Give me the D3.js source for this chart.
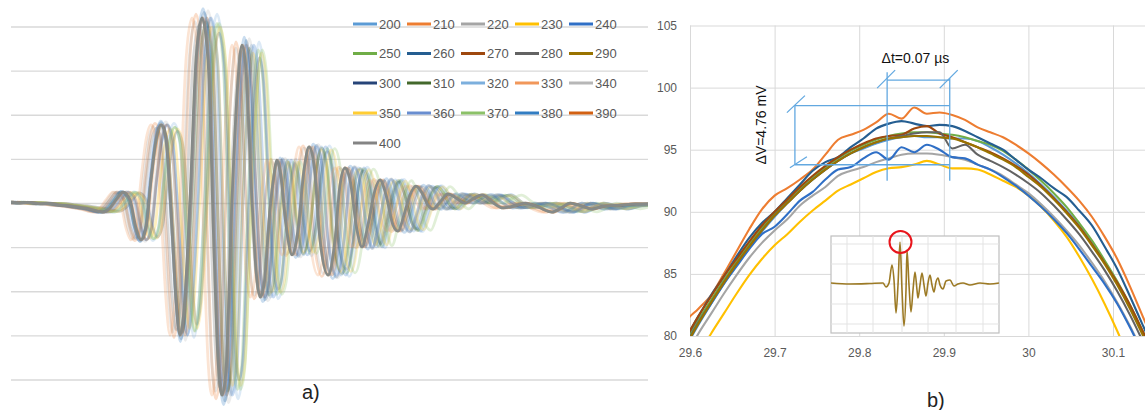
<!DOCTYPE html>
<html><head><meta charset="utf-8">
<script src="https://cdn.jsdelivr.net/npm/d3@7"></script>
<style>body{margin:0;background:#fff}svg{display:block;font-family:"Liberation Sans",Arial,sans-serif}</style>
</head><body>
<svg id="c" width="1145" height="410"></svg>
<script>
// ---------- shared legend ----------
const seriesNames = ["200","210","220","230","240","250","260","270","280","290","300","310","320","330","340","350","360","370","380","390","400"];
const seriesColors = ["#5B9BD5","#ED7D31","#A5A5A5","#FFC000","#2F6FC6","#70AD47","#255E91","#9E480E","#636363","#997300","#264478","#43682B","#7CAFDD","#F1975A","#B7B7B7","#FFCD33","#698ED0","#8CC168","#327DC2","#D26012","#848484"];

// ---------- panel a): waveform of series 400 (time µs, amplitude mV) ----------
const leftTime = [0,0.9,1.9,2.9,3.9,4.9,5.9,6.9,7.9,8.6,9.2,9.9,10.5,11.2,11.9,12.5,13.0,13.5,14.0,14.5,15.0,15.5,16.1,16.5,16.9,17.3,17.9,18.5,19.1,19.7,20.3,20.7,21.1,21.5,22.1,22.7,23.1,23.5,24.1,24.5,24.9,25.3,25.9,26.3,26.6,26.9,27.5,28.1,28.7,29.3,29.8,30.3,30.9,31.7,32.4,32.9,33.4,33.9,34.6,35.1,35.7,36.4,36.9,37.5,38.2,38.7,39.3,39.9,40.5,41.1,41.7,42.2,42.9,43.7,44.5,45.4,46.3,47.1,48.1,49.2,50.3,51.4,52.7,54.1,55.0,55.9,57.0,58.1,59.4,60.9,62.4,63.7];
const leftValue = [0.7,0.2,0.5,-0.2,0,-0.7,-1.1,-1.8,-2.5,-3.4,-3.9,-2.0,1.6,5.2,1.6,-11.1,-16.5,-11.1,10.7,28.8,35.6,28.8,-12.0,-43.7,-59.6,-48.3,1.6,65.0,84.1,65.0,-21.1,-70.9,-86.8,-75.5,1.6,56.0,71.8,60.5,1.6,-30.1,-42.4,-36.9,-2.9,12.9,19.7,15.2,-9.7,-23.3,-12.0,15.2,25.6,17.5,-16.5,-32.4,-16.5,8.4,16.1,10.7,-12.0,-19.7,-9.7,6.1,10.7,3.9,-9.7,-12.5,-5.2,3.9,7.9,4.8,-0.7,-2.5,0.7,4.3,2.5,0.2,2.5,3.9,0.7,-2.0,-1.1,0.2,-1.6,-3.9,-2.0,0.2,-1.1,-2.5,-1.1,-0.7,-0.2,-0.2];
// other series (200..390) read as time offset, time stretch after onset and amplitude ratio vs. series 400
const faintShift   = [0.4,-0.6,-0.9,0.8,0.2,1.2,-0.3,0.6,-0.7,0.0,1.6,-0.4,1.0,-1.0,0.3,1.4,-0.5,0.9,-0.2,0.1];
const faintStretch = [1.04,1.00,1.02,1.02,1.07,1.03,1.05,0.99,1.04,1.00,1.01,1.08,1.05,1.00,1.03,1.04,1.06,1.08,1.03,1.00];
const faintAmp     = [1.00,1.02,0.98,0.95,1.00,0.97,1.03,1.00,0.96,1.00,0.92,0.98,1.02,1.00,1.04,0.95,1.00,0.97,1.05,1.00];
const leftGridValues = [-80,-60,-40,-20,0,20,40,60,80];

// ---------- panel b): zoom on the peak, series 200..290 ----------
const rightTime = [29.580,29.595,29.610,29.625,29.640,29.655,29.670,29.685,29.700,29.715,29.730,29.745,29.760,29.775,29.790,29.805,29.820,29.835,29.850,29.865,29.880,29.895,29.910,29.925,29.940,29.955,29.970,29.985,30.000,30.015,30.030,30.045,30.060,30.075,30.090,30.105,30.120,30.135,30.150,30.165];
const right200 = [77.2,79.1,80.9,82.6,84.2,85.7,87.1,88.4,89.6,90.7,91.7,92.6,93.4,94.1,94.7,95.1,95.5,95.8,96.0,96.1,96.0,96.0,95.9,95.9,95.7,95.2,94.6,93.9,93.1,92.2,91.2,90.1,88.9,87.5,86.0,84.3,82.4,80.3,78.1,75.9];
const right210 = [79.5,81.2,82.2,83.3,85.0,86.8,88.6,90.2,91.3,91.9,92.6,93.4,94.6,95.8,96.2,96.6,97.2,97.9,97.5,98.4,97.9,98.0,97.8,97.4,96.8,96.4,96.0,95.4,94.7,93.9,93.0,92.0,90.9,89.6,88.0,86.2,84.0,81.6,79.2,76.8];
const right220 = [76.5,78.4,80.2,81.8,83.4,84.9,86.3,87.5,88.5,89.4,90.5,91.3,92.0,92.9,93.3,93.6,94.0,94.3,94.6,94.7,94.7,94.6,94.4,94.2,93.8,93.4,92.9,92.2,91.5,90.6,89.6,88.5,87.3,85.9,84.4,82.7,80.8,78.7,76.5,74.3];
const right230 = [75.0,76.8,78.5,80.2,81.8,83.4,84.9,86.2,87.3,88.2,89.2,90.1,90.9,91.7,92.2,92.7,93.2,93.5,93.6,93.8,94.1,93.8,93.5,93.5,93.4,93.0,92.5,92.0,91.3,90.4,89.3,88.0,86.4,84.6,82.6,80.4,78.0,75.5,73.0,70.5];
const right240 = [77.3,79.2,81.0,82.6,84.2,85.6,87.0,88.2,88.8,89.8,90.9,91.6,92.6,93.4,93.6,94.3,94.8,94.2,95.2,94.8,95.4,95.0,94.4,94.3,93.8,93.4,92.8,92.1,91.3,90.4,89.4,88.3,87.0,85.6,84.2,82.6,80.7,78.6,76.4,74.2];
const right250 = [77.6,79.5,81.3,82.9,84.5,86.0,87.4,88.7,89.9,90.9,91.9,92.8,93.6,94.3,94.9,95.4,95.8,96.1,96.3,96.4,96.4,96.3,96.2,96.0,95.7,95.4,94.9,94.2,93.4,92.5,91.5,90.4,89.1,87.7,86.1,84.4,82.5,80.4,78.2,76.0];
const right260 = [78.0,79.8,81.6,83.3,84.8,86.4,87.9,89.1,90.0,91.1,92.2,93.3,94.0,94.4,95.2,95.9,96.7,97.1,97.3,97.1,96.9,97.0,96.9,96.5,96.0,95.5,95.0,94.2,93.4,92.7,91.9,91.2,90.1,88.9,87.2,85.4,83.2,80.9,78.6,76.3];
const right270 = [77.8,79.8,81.6,83.2,84.8,86.2,87.6,88.9,90.0,91.0,92.0,92.9,93.7,94.4,95.0,95.5,95.9,96.1,96.2,96.7,96.9,96.3,96.0,95.6,95.2,94.8,94.3,93.7,93.0,92.1,91.1,90.0,88.8,87.4,85.9,84.3,82.5,80.4,78.2,76.0];
const right280 = [77.4,79.3,81.1,82.7,84.3,85.8,87.2,88.5,89.7,90.7,91.7,92.6,93.4,94.1,94.7,95.2,95.6,95.9,96.1,96.3,96.4,96.4,95.1,95.4,94.6,94.1,93.6,93.0,92.3,91.5,90.5,89.4,88.2,86.8,85.3,83.6,81.7,79.6,77.4,75.2];
const right290 = [77.3,79.2,81.0,82.7,84.3,85.8,87.2,88.5,89.7,90.7,91.7,92.6,93.4,94.1,94.7,95.2,95.6,95.9,96.0,96.1,96.1,96.0,95.9,95.6,95.2,94.7,94.2,93.6,92.8,92.0,91.0,89.9,88.7,87.3,85.8,84.1,82.2,80.1,77.9,75.7];
const rightSeries = [right200,right210,right220,right230,right240,right250,right260,right270,right280,right290];
const rightYTicks = [80,85,90,95,100,105];
const rightXTicks = [29.6,29.7,29.8,29.9,30,30.1];
// annotation values
const dtStart = 29.833, dtEnd = 29.907, dtLevel = 100.6;
const dvLeft = 29.724, dvTop = 98.55, dvBottom = 93.79;
// inset (whole waveform, arbitrary units)
const insetTime  = [1,20,40,53,56,59,62,64,66,68,70,72,74,76,77,79,81,83,85,87,88,90,92,94,96,98,100,102,104,106,108,110,113,116,120,124,128,133,140,150,160,169];
const insetValue = [1,0,0.5,1,-3,1,19,4,-29,-1,42,-6,-42,-6,34,-1,-28,-6,12,-6,-14,-1,11,-1,-12,1,9,-1,-8,2,6,-1,-5,3,4,-2,0,1,-1,1,0,1];
const insetGridX = [17,43,72,98,126,153];
const insetGridY = [-40,-20,0,20,40];

const svg = d3.select("#c");
const defs = svg.append("defs");
defs.append("clipPath").attr("id","clipL").append("rect").attr("x",11).attr("y",0).attr("width",637).attr("height",410);

// ===== panel a =====
const xL = d3.scaleLinear().domain([0,63.7]).range([11,648]);
const yL = d3.scaleLinear().domain([-80,80]).range([380,27]);
const gA = svg.append("g");
gA.selectAll("line.grid").data(leftGridValues).join("line")
  .attr("x1",xL(0)).attr("x2",xL(63.7)).attr("y1",d=>yL(d)).attr("y2",d=>yL(d))
  .attr("stroke","#d9d9d9").attr("stroke-width",1.3);
const lineL = d3.line().x(d=>xL(d[0])).y(d=>yL(d[1])).curve(d3.curveMonotoneX);
const plotA = gA.append("g").attr("clip-path","url(#clipL)");
faintShift.forEach((s,i)=>{
  const pts = leftTime.map((t,j)=>[t + s + Math.max(0,t-9)*(faintStretch[i]-1), leftValue[j]*faintAmp[i]]);
  plotA.append("path").attr("d",lineL(pts)).attr("fill","none")
    .attr("stroke",seriesColors[i]).attr("stroke-opacity",0.26).attr("stroke-width",2.8);
});
plotA.append("path").attr("d",lineL(leftTime.map((t,j)=>[t,leftValue[j]]))).attr("fill","none")
  .attr("stroke","#868a88").attr("stroke-width",2.8);

// legend
const legCols = [353,407,461,515,569], legRows = [24,53.5,83,113,143];
const leg = svg.append("g");
seriesNames.forEach((n,i)=>{
  const x = legCols[i%5], y = legRows[Math.floor(i/5)];
  leg.append("line").attr("x1",x).attr("x2",x+24).attr("y1",y).attr("y2",y)
    .attr("stroke",seriesColors[i]).attr("stroke-width",3);
  leg.append("text").attr("x",x+26).attr("y",y).attr("dy","0.35em")
    .attr("font-size",13).attr("fill","#595959").text(n);
});
svg.append("text").attr("x",302).attr("y",399).attr("font-size",20).attr("fill","#222").text("a)");

// ===== panel b =====
const xR = d3.scaleLinear().domain([29.6,30.1378]).range([690,1145]);
const yR = d3.scaleLinear().domain([80,105]).range([336,25.5]);
defs.append("clipPath").attr("id","clipR").append("rect").attr("x",690).attr("y",25.5).attr("width",455).attr("height",310.5);
const gB = svg.append("g");
gB.append("g").attr("transform","translate(690,0)")
  .call(d3.axisLeft(yR).tickValues(rightYTicks).tickSize(-455).tickPadding(13))
  .call(g=>{g.select(".domain").remove();
    g.selectAll(".tick line").attr("stroke","#d9d9d9");
    g.selectAll(".tick text").attr("fill","#595959").attr("font-size",12).attr("font-family","Liberation Sans, Arial, sans-serif");});
gB.append("g").attr("transform","translate(0,336)")
  .call(d3.axisBottom(xR).tickValues(rightXTicks).tickFormat(d3.format("")).tickSize(-310.5).tickPadding(12))
  .call(g=>{g.select(".domain").remove();
    g.selectAll(".tick line").attr("stroke","#d9d9d9");
    g.selectAll(".tick text").attr("fill","#595959").attr("font-size",12).attr("font-family","Liberation Sans, Arial, sans-serif");});

const lineR = d3.line().x(d=>xR(d[0])).y(d=>yR(d[1])).curve(d3.curveMonotoneX);
const plotB = gB.append("g").attr("clip-path","url(#clipR)");
rightSeries.forEach((vals,i)=>{
  plotB.append("path").attr("d",lineR(rightTime.map((t,j)=>[t,vals[j]]))).attr("fill","none")
    .attr("stroke",seriesColors[i]).attr("stroke-width",2.1);
});

// annotations
const ac = "#62a8e0";
const ann = gB.append("g").attr("stroke",ac).attr("stroke-width",1.3).attr("fill","none");
ann.append("line").attr("x1",xR(dvLeft)).attr("x2",xR(dtEnd)).attr("y1",yR(dvTop)).attr("y2",yR(dvTop));
ann.append("line").attr("x1",xR(dvLeft)).attr("x2",xR(dtEnd)).attr("y1",yR(dvBottom)).attr("y2",yR(dvBottom));
ann.append("line").attr("x1",xR(dvLeft)).attr("x2",xR(dvLeft)).attr("y1",yR(dvTop)).attr("y2",yR(dvBottom));
ann.append("line").attr("x1",xR(dtStart)).attr("x2",xR(dtStart)).attr("y1",yR(dtLevel)-8).attr("y2",yR(92.5));
ann.append("line").attr("x1",xR(dtEnd)).attr("x2",xR(dtEnd)).attr("y1",yR(dtLevel)-2).attr("y2",yR(92.5));
ann.append("line").attr("x1",xR(dtStart)).attr("x2",xR(dtEnd)).attr("y1",yR(dtLevel)).attr("y2",yR(dtLevel));
const slash = (x,y,dx0,dy0,dx1,dy1)=>ann.append("line").attr("x1",x+dx0).attr("y1",y+dy0).attr("x2",x+dx1).attr("y2",y+dy1);
slash(xR(dvLeft),yR(dvTop),-8,7,10,-10);
slash(xR(dvLeft),yR(dvBottom),-5,3,12,-8);
slash(xR(dtStart),yR(dtLevel),-10,8,8,-10);
slash(xR(dtEnd),yR(dtLevel),-10,8,8,-10);
gB.append("text").attr("x",(xR(dtStart)+xR(dtEnd))/2 - 3).attr("y",63).attr("text-anchor","middle")
  .attr("font-size",14).attr("fill","#111").text("Δt=0.07 µs");
gB.append("text").attr("transform","translate(766,125) rotate(-90)")
  .attr("text-anchor","middle").attr("font-size",14).attr("fill","#111").text("ΔV=4.76 mV");

// inset
const xI = d3.scaleLinear().domain([0,170]).range([830,1000]);
const yI = d3.scaleLinear().domain([-50,50]).range([334,234]);
const gI = gB.append("g");
gI.append("rect").attr("x",xI(1)).attr("y",yI(48)).attr("width",xI(169)-xI(1)).attr("height",yI(-49)-yI(48))
  .attr("fill","#fff").attr("stroke","#bfbfbf").attr("stroke-width",1.2);
gI.selectAll("line.gx").data(insetGridX).join("line").attr("x1",d=>xI(d)).attr("x2",d=>xI(d))
  .attr("y1",yI(48)).attr("y2",yI(-49)).attr("stroke","#e3e3e3");
gI.selectAll("line.gy").data(insetGridY).join("line").attr("y1",d=>yI(d)).attr("y2",d=>yI(d))
  .attr("x1",xI(1)).attr("x2",xI(169)).attr("stroke","#e3e3e3");
const lineI = d3.line().x(d=>xI(d[0])).y(d=>yI(d[1])).curve(d3.curveMonotoneX);
gI.append("path").attr("d",lineI(insetTime.map((t,j)=>[t,insetValue[j]]))).attr("fill","none")
  .attr("stroke","#9c7a25").attr("stroke-width",1.6);
gI.append("circle").attr("cx",xI(70.5)).attr("cy",yI(42)).attr("r",11)
  .attr("fill","none").attr("stroke","#e8141b").attr("stroke-width",2);

svg.append("text").attr("x",927).attr("y",407).attr("font-size",20).attr("fill","#222").text("b)");
</script>
</body></html>
